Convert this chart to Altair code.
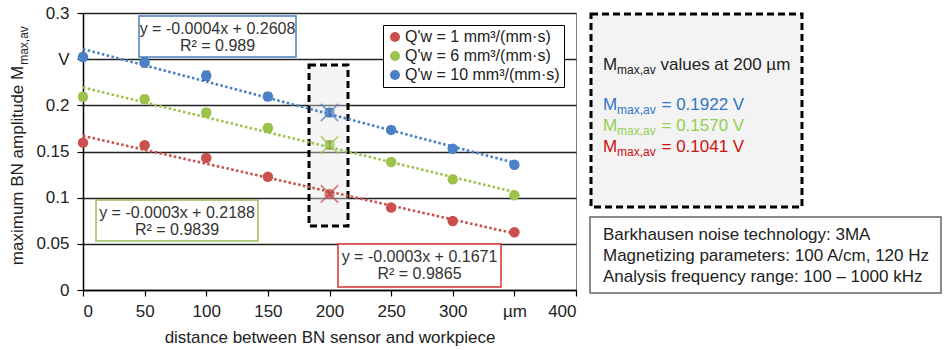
import altair as alt
import pandas as pd

FONT = "Liberation Sans"

# ---------------- data ----------------
distances = [0, 50, 100, 150, 200, 250, 300, 350]
series_names = ["Q'w = 1 mm³/(mm·s)", "Q'w = 6 mm³/(mm·s)", "Q'w = 10 mm³/(mm·s)"]
series_colors = ["#C9504D", "#9CC24A", "#4A80C6"]
m_q1 = [0.1596, 0.1567, 0.1430, 0.1226, 0.1041, 0.0893, 0.0748, 0.0625]
m_q6 = [0.2092, 0.2067, 0.1922, 0.1755, 0.1570, 0.1386, 0.1200, 0.1027]
m_q10 = [0.2524, 0.2465, 0.2320, 0.2096, 0.1922, 0.1734, 0.1530, 0.1357]
err_q1 = [0.002, 0.002, 0.002, 0.002, 0.002, 0.002, 0.002, 0.002]
err_q6 = [0.004, 0.004, 0.004, 0.004, 0.004, 0.003, 0.003, 0.003]
err_q10 = [0.004, 0.005, 0.005, 0.004, 0.004, 0.003, 0.003, 0.003]

x_ticks = [0, 50, 100, 150, 200, 250, 300, 350, 400]
y_ticks = [0, 0.05, 0.1, 0.15, 0.2, 0.25, 0.3]
x_title = "distance between BN sensor and workpiece"
y_title_main = "maximum BN amplitude M"
y_title_sub = "max,av"

eq_blue = ["y = -0.0004x + 0.2608", "R² = 0.989"]
eq_green = ["y = -0.0003x + 0.2188", "R² = 0.9839"]
eq_red = ["y = -0.0003x + 0.1671", "R² = 0.9865"]

panel_head = "values at 200 µm"
panel_values = ["= 0.1922 V", "= 0.1570 V", "= 0.1041 V"]
panel_colors = ["#2E75C6", "#92D050", "#D01010"]
info_lines = [
    "Barkhausen noise technology: 3MA",
    "Magnetizing parameters: 100 A/cm, 120 Hz",
    "Analysis frequency range: 100 – 1000 kHz",
]

rows = []
for name, vals, errs in zip(series_names, [m_q1, m_q6, m_q10], [err_q1, err_q6, err_q10]):
    for d, v, e in zip(distances, vals, errs):
        rows.append({"distance": d, "value": v, "lo": v - e, "hi": v + e, "series": name})
df = pd.DataFrame(rows)

# ---------------- scales / axes ----------------
xscale = alt.Scale(domain=[0, 400], nice=False)
yscale = alt.Scale(domain=[0, 0.3], nice=False)
cscale = alt.Scale(domain=series_names, range=series_colors)

xaxis = alt.Axis(
    values=x_ticks, labelExpr="datum.value == 350 ? 'µm' : datum.label",
    title=x_title, titleFont=FONT, titleFontSize=17, titleFontWeight="normal",
    titleColor="#222222", titlePadding=10,
    grid=False, domainColor="black", domainWidth=1.5, tickColor="black",
    tickSize=6, tickWidth=1.2, labelFont=FONT, labelFontSize=17,
    labelColor="#222222", labelPadding=7,
)
yaxis = alt.Axis(
    values=y_ticks,
    labelExpr="datum.value == 0.25 ? 'V' : format(datum.value, '~g')",
    title=None, grid=True, gridColor="#222222", gridWidth=1.3,
    domainColor="black", domainWidth=1.5, tickColor="black", tickSize=6,
    tickWidth=1.2, labelFont=FONT, labelFontSize=17, labelColor="#222222",
    labelPadding=8,
)

X = alt.X("distance:Q", scale=xscale, axis=xaxis)
Y = alt.Y("value:Q", scale=yscale, axis=yaxis)

one = pd.DataFrame({"k": [0]})


def txt(s, x, y, size=17, color="#262626", align="left", angle=0):
    kw = dict(align=align, baseline="middle", font=FONT, fontSize=size, color=color)
    if angle:
        kw["angle"] = angle
    return alt.Chart(pd.DataFrame({"t": [s]})).mark_text(**kw).encode(
        x=alt.value(x), y=alt.value(y), text="t:N")


def box(x1, x2, y1, y2, **mk):
    return alt.Chart(one).mark_rect(**mk).encode(
        x=alt.value(x1), x2=alt.value(x2), y=alt.value(y1), y2=alt.value(y2))


layers = []

# highlight box at 200 µm
layers.append(box(226, 265, 52, 213, fill="#e6e6e6", fillOpacity=0.4,
                  stroke="black", strokeWidth=3, strokeDash=[7, 4]))

# right panels
layers.append(box(508, 719, 1, 194, fill="#f3f3f3", stroke="black",
                  strokeWidth=3, strokeDash=[7, 4]))
layers.append(box(507, 858, 204, 280, fill="white", stroke="#666666", strokeWidth=1.5))

# trend lines (one per series)
for name, col in zip(series_names, series_colors):
    layers.append(
        alt.Chart(df).transform_filter(alt.datum.series == name)
        .transform_regression("distance", "value", extent=[0, 350])
        .mark_line(strokeDash=[2.5, 2.4], strokeWidth=2.6, color=col)
        .encode(x=X, y=Y)
    )

# error bars
layers.append(
    alt.Chart(df).mark_rule(color="#111111", strokeWidth=1.2)
    .encode(x=X, y=alt.Y("lo:Q", scale=yscale, axis=yaxis), y2="hi:Q")
)
for f in ["lo", "hi"]:
    layers.append(
        alt.Chart(df).mark_tick(orient="horizontal", color="#111111", size=7, thickness=1.2)
        .encode(x=X, y=alt.Y(f + ":Q", scale=yscale, axis=yaxis))
    )

# points (with legend)
layers.append(
    alt.Chart(df).mark_point(filled=True, size=110, shape="circle")
    .encode(
        x=X, y=Y,
        color=alt.Color("series:N", scale=cscale, legend=alt.Legend(
            orient="none", legendX=300, legendY=12, title=None,
            labelFont=FONT, labelFontSize=16, labelColor="#222222",
            symbolType="circle", symbolSize=100, symbolStrokeWidth=0,
            padding=4, rowPadding=3, labelOffset=2,
            fillColor="white", strokeColor="black")),
        opacity=alt.condition("datum.distance == 200", alt.value(0.7), alt.value(1)),
    )
)

# X markers at 200 µm
for name, col in zip(series_names, series_colors):
    layers.append(
        alt.Chart(df).transform_filter((alt.datum.distance == 200) & (alt.datum.series == name))
        .mark_point(shape="M-1,-1L1,1M-1,1L1,-1", filled=False, size=300,
                    strokeWidth=1.8, opacity=0.7, color=col)
        .encode(x=X, y=Y)
    )

# equation boxes
for lines, col, (x1, x2, y1, y2) in [
    (eq_blue, "#4A7EBB", (56, 213, 3, 44)),
    (eq_green, "#9BBB59", (13, 175, 187, 228)),
    (eq_red, "#D83030", (255, 418, 231, 274)),
]:
    layers.append(box(x1, x2, y1, y2, fill="white", stroke=col, strokeWidth=1.5))
    cx = (x1 + x2) / 2
    layers.append(txt(lines[0], cx, y1 + 12.5, size=16, color="#333333", align="center"))
    layers.append(txt(lines[1], cx, y1 + 29.5, size=16, color="#333333", align="center"))

# y title with subscript
layers.append(txt(y_title_main, -65, 152.5, size=17, color="#222222", align="center", angle=270))
layers.append(txt(y_title_sub, -59, 32.5, size=12, color="#222222", align="center", angle=270))

# right panel texts
layers.append(txt("M", 520, 52, size=17, color="#222222"))
layers.append(txt("max,av", 534, 57, size=12, color="#222222"))
layers.append(txt(panel_head, 577.5, 52, size=17, color="#222222"))
for i, (val, col) in enumerate(zip(panel_values, panel_colors)):
    yy = 92 + i * 20.8
    layers.append(txt("M", 520, yy, size=17, color=col))
    layers.append(txt("max,av", 534, yy + 5, size=12, color=col))
    layers.append(txt(val, 578.5, yy, size=17, color=col))

for i, line in enumerate(info_lines):
    layers.append(txt(line, 520, 222 + i * 20.8, size=17, color="#222222"))

chart = alt.layer(*layers).properties(
    width=493, height=277,
    autosize=alt.AutoSizeParams(type="none"),
    padding={"left": 83, "top": 13, "right": 368, "bottom": 60},
).configure_view(stroke="#808080", strokeWidth=1)

chart.save("out.html", embed_options={"renderer": "svg", "actions": False})
